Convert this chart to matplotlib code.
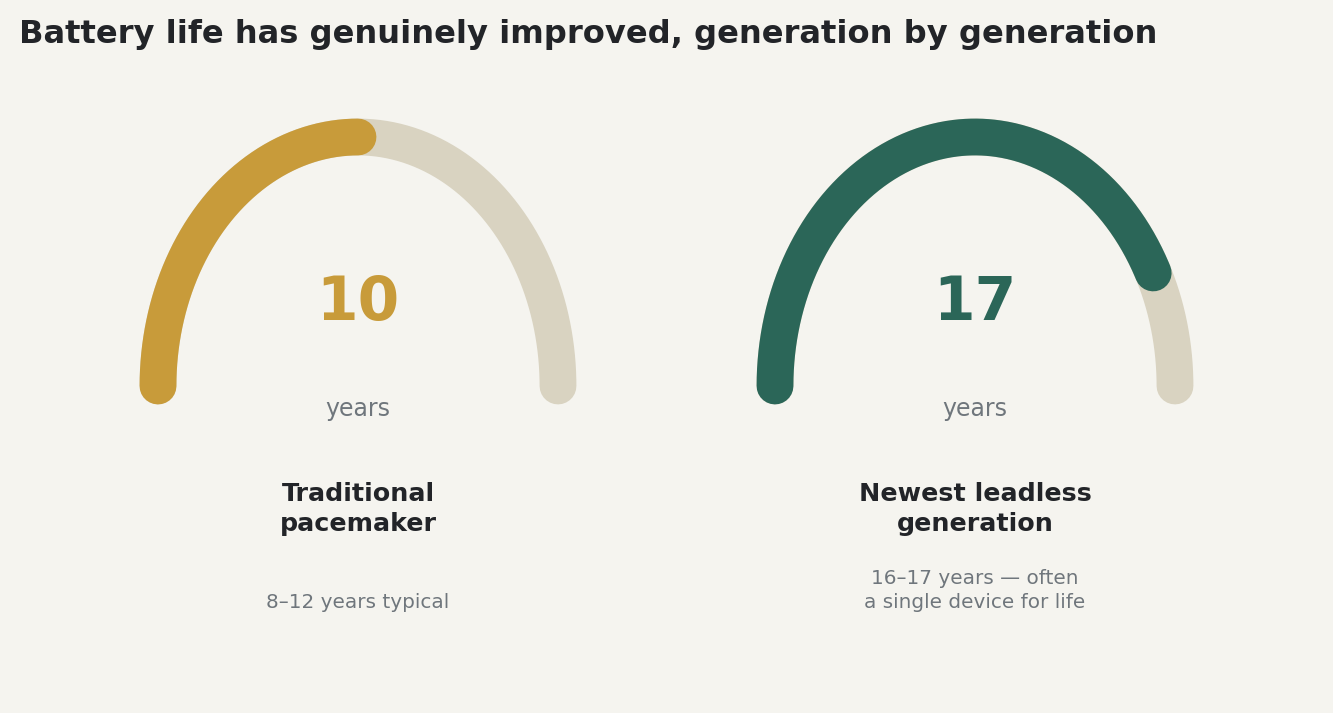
import numpy as np
import matplotlib
matplotlib.use("Agg")
import matplotlib.pyplot as plt

# Data
labels = ["Traditional\npacemaker", "Newest leadless\ngeneration"]
values = [10, 17]
max_value = 20
units = ["years", "years"]
notes = ["8–12 years typical", "16–17 years — often\na single device for life"]
title = "Battery life has genuinely improved, generation by generation"

# Styles
bg = "#F5F4EF"
track = "#D9D3C1"
colors = ["#C89B3A", "#2B6658"]
dark = "#222428"
gray = "#6F767C"

W, H = 1333, 713
fig = plt.figure(figsize=(W / 100, H / 100), dpi=100, facecolor=bg)
ax = fig.add_axes([0, 0, 1, 1])
ax.set_xlim(0, W)
ax.set_ylim(H, 0)
ax.axis("off")
ax.set_facecolor(bg)

centers_x = [358, 975]
cy = 386
rx, ry = 200, 249
lw = 26.5


def arc(cx, frac, color, z):
    th = np.linspace(np.pi, np.pi - np.pi * frac, 400)
    x = cx + rx * np.cos(th)
    y = cy - ry * np.sin(th)
    ax.plot(x, y, color=color, lw=lw, solid_capstyle="round", zorder=z)


for i, (lab, v, u, n) in enumerate(zip(labels, values, units, notes)):
    cx = centers_x[i]
    arc(cx, 1.0, track, 1)
    arc(cx, v / max_value, colors[i], 2)
    ax.text(cx, 303.5, f"{v}", ha="center", va="center", fontsize=43,
            fontweight="bold", color=colors[i])
    ax.text(cx, 409, u, ha="center", va="center", fontsize=17, color=gray)
    ax.text(cx, 509, lab, ha="center", va="center", fontsize=18.3,
            fontweight="bold", color=dark, linespacing=1.27)
    ax.text(cx, 612, n, ha="center", va="bottom", fontsize=14.4, color=gray,
            linespacing=1.32)

fig.text(19 / W, 1 - 34 / H, title, ha="left", va="center", fontsize=23.1,
         fontweight="bold", color=dark)

fig.savefig("out.png", dpi=100, facecolor=bg)
